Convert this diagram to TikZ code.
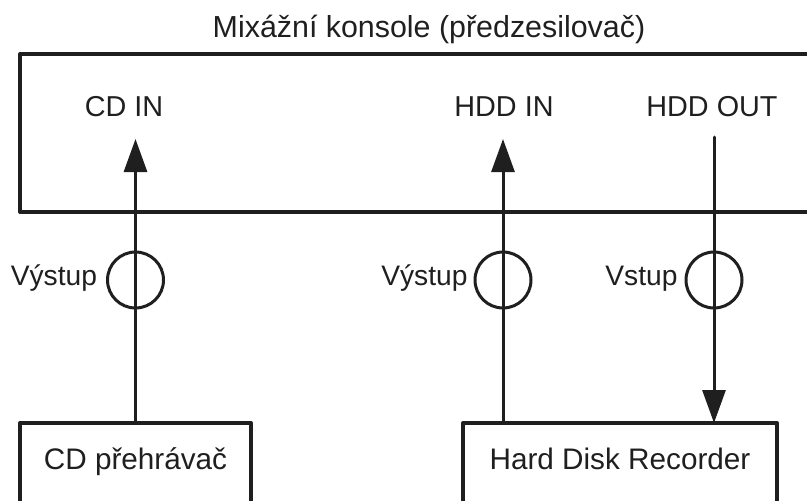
\documentclass[tikz,border=0pt]{standalone}
\usepackage{fontspec}
\setmainfont{Liberation Sans}
\usetikzlibrary{arrows.meta, positioning}

\begin{document}
\begin{tikzpicture}[
      x=1pt, y=1pt,
      every node/.style={font=\fontsize{28.8}{32}\selectfont, text=black!88},
      unit/.style={rectangle, draw=black!88, line width=4pt, line join=round,
                   anchor=north west, inner sep=0pt, outer sep=0pt,
                   font=\fontsize{29.7}{34}\selectfont,
                   text height=0.75em, text depth=0.25em},
      plug/.style={circle, draw=black!88, line width=3pt, minimum size=56pt,
                   inner sep=0pt, outer sep=0pt},
      port/.style={anchor=base},
      side/.style={anchor=base east, font=\fontsize{28.2}{32}\selectfont},
      arr/.style={-{Triangle[length=33pt, width=23pt]}, line width=3pt, black!88},
      wire/.style={line width=3pt, black!88, line cap=round}
    ]
      \useasboundingbox (0,0) rectangle (807,-501);

      % Console (open on the right)
      \node[unit, minimum width=830pt, minimum height=158pt] (console) at (20,-54) {};
      \node[anchor=base, font=\fontsize{30.4}{34}\selectfont] (title) at (429,-37) {Mixážní konsole (předzesilovač)};

      % Inputs and outputs of the console
      \node[port] (cdin) at (124,-116) {CD IN};
      \node[port] (hddin) at (504,-116) {HDD IN};
      \node[port] (hddout) at (712,-116) {HDD OUT};

      % Players
      \node[unit, minimum width=231pt, minimum height=88pt] (cdplayer) at (20,-423) {CD přehrávač};
      \node[unit, minimum width=314pt, minimum height=88pt] (recorder) at (463,-423) {Hard Disk Recorder};

      % Jacks
      \node[plug] (cdjack) at (135.5,-280) {};
      \node[plug] (hddinjack) at (503,-280) {};
      \node[plug] (hddoutjack) at (714,-280) {};
      \node[side] (cdjacklabel) at ([xshift=-7pt, yshift=-5pt]cdjack.west) {Výstup};
      \node[side] (hddinjacklabel) at ([xshift=-4pt, yshift=-5pt]hddinjack.west) {Výstup};
      \node[side] (hddoutjacklabel) at ([xshift=-5pt, yshift=-5pt]hddoutjack.west) {Vstup};

      % Arrow ends inside the console
      \coordinate (cdtip) at (135.5,-139);
      \coordinate (hddintip) at (503,-139);
      \coordinate (hddoutstart) at (714,-137);

      % Arrows
      \draw[arr] (cdplayer.north) -- (cdtip);
      \draw[arr] (recorder.north -| hddinjack) -- (hddintip);
      \draw[wire, arr] (hddoutstart) -- (recorder.north -| hddoutjack);

    \end{tikzpicture}
\end{document}
